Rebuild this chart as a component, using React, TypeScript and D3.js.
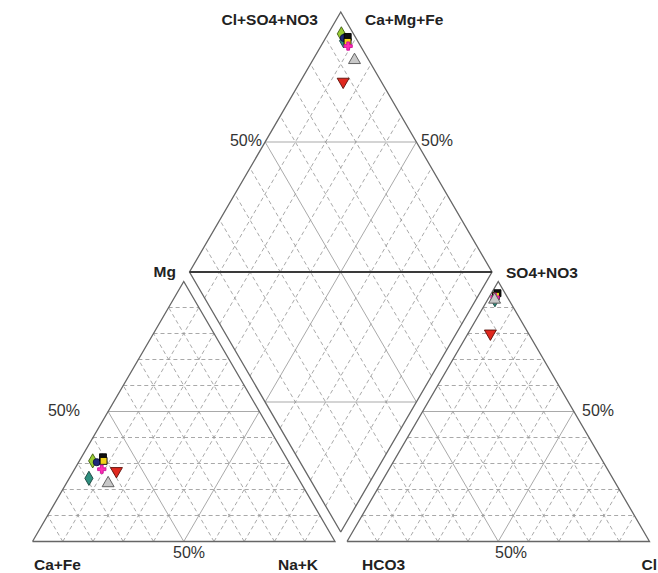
import React from "react";
import * as d3 from "d3";

// Sample compositions (meq %)
const sampleIds = ["W1", "W2", "W3", "W4", "W5", "W6", "W7", "W8"];
const caFe = [64.6, 69.2, 63.5, 60.5, 61.0, 63.2, 63.8, 58.7];
const mgVals = [31.0, 24.3, 30.5, 32.4, 31.0, 27.8, 22.4, 27.1];
const naK = [4.4, 6.5, 6.0, 7.1, 8.0, 9.0, 13.8, 14.2];
const hco3 = [4.0, 4.6, 4.0, 2.5, 3.5, 4.1, 4.7, 12.6];
const so4no3 = [94.0, 93.0, 94.0, 95.5, 94.5, 93.9, 93.0, 80.0];
const clVals = [2.0, 2.4, 2.0, 2.0, 2.0, 2.0, 2.3, 7.4];

// Marker style for each sample
const markerShapes = ["diamond", "diamond", "circle", "square", "square", "cross", "triangle", "triangleDown"];
const markerFills = ["#9acd32", "#2f8f7f", "#1f2a7a", "#111111", "#f2d21b", "#ff2fb4", "#c8c8c8", "#e0281e"];
const markerStrokes = ["#3d5a12", "#17443c", "#0b1040", "#000000", "#000000", "#d0109a", "#555555", "#5a0e08"];

const tickFractions = d3.range(1, 10).map((k) => k / 10);

type Pt = [number, number];

const W = 658;
const H = 573;
const side = 302.5;
const th = 260;
const baseY = 541.5;
const leftX0 = 32.5;
const rightX0 = 347;
const dBottom: Pt = [340.75, 532];

const lerp = (a: Pt, b: Pt, t: number): Pt => [a[0] + (b[0] - a[0]) * t, a[1] + (b[1] - a[1]) * t];

const cat = { A: [leftX0, baseY] as Pt, B: [leftX0 + side, baseY] as Pt, C: [leftX0 + side / 2, baseY - th] as Pt };
const ani = { A: [rightX0, baseY] as Pt, B: [rightX0 + side, baseY] as Pt, C: [rightX0 + side / 2, baseY - th] as Pt };
const dia = {
  B: dBottom,
  L: [dBottom[0] - side / 2, dBottom[1] - th] as Pt,
  R: [dBottom[0] + side / 2, dBottom[1] - th] as Pt,
  T: [dBottom[0], dBottom[1] - 2 * th] as Pt,
};

// ternary position: a at A, b at B, c at C (fractions)
const tern = (tri: { A: Pt; B: Pt; C: Pt }, a: number, b: number, c: number): Pt => {
  const s = a + b + c;
  return [
    (tri.A[0] * a + tri.B[0] * b + tri.C[0] * c) / s,
    (tri.A[1] * a + tri.B[1] * b + tri.C[1] * c) / s,
  ];
};

const line = d3.line<Pt>();

function triGrid(tri: { A: Pt; B: Pt; C: Pt }) {
  const segs: { p: Pt[]; mid: boolean }[] = [];
  tickFractions.forEach((t) => {
    const mid = Math.abs(t - 0.5) < 1e-9;
    segs.push({ p: [lerp(tri.A, tri.C, t), lerp(tri.B, tri.C, t)], mid });
    segs.push({ p: [lerp(tri.A, tri.B, t), lerp(tri.C, tri.B, t)], mid });
    segs.push({ p: [lerp(tri.B, tri.A, t), lerp(tri.C, tri.A, t)], mid });
  });
  return segs;
}

function diaGrid() {
  const segs: { p: Pt[]; mid: boolean }[] = [];
  tickFractions.forEach((t) => {
    const mid = Math.abs(t - 0.5) < 1e-9;
    segs.push({ p: [lerp(dia.B, dia.R, t), lerp(dia.L, dia.T, t)], mid });
    segs.push({ p: [lerp(dia.B, dia.L, t), lerp(dia.R, dia.T, t)], mid });
  });
  return segs;
}

const symbolFor = (shape: string) => {
  switch (shape) {
    case "diamond":
      return d3.symbol(d3.symbolDiamond, 58)();
    case "circle":
      return d3.symbol(d3.symbolCircle, 40)();
    case "square":
      return d3.symbol(d3.symbolSquare, 48)();
    case "cross":
      return d3.symbol(d3.symbolCross, 38)();
    case "triangle":
    case "triangleDown":
      return d3.symbol(d3.symbolTriangle, 62)();
    default:
      return d3.symbol(d3.symbolCircle, 30)();
  }
};

const Marker = ({ p, i }: { p: Pt; i: number }) => (
  <path
    d={symbolFor(markerShapes[i]) || ""}
    transform={`translate(${p[0]},${p[1]})${markerShapes[i] === "triangleDown" ? " rotate(180)" : ""}`}
    fill={markerFills[i]}
    stroke={markerStrokes[i]}
    strokeWidth={0.9}
  />
);

export default function App() {
  const gridColor = "#999999";
  const edgeColor = "#666666";

  const catPts = sampleIds.map((_, i) => tern(cat, caFe[i], naK[i], mgVals[i]));
  const aniPts = sampleIds.map((_, i) => tern(ani, hco3[i], clVals[i], so4no3[i]));
  const diaPts = sampleIds.map((_, i) => {
    const n = naK[i] / (caFe[i] + mgVals[i] + naK[i]);
    const a = (so4no3[i] + clVals[i]) / (hco3[i] + so4no3[i] + clVals[i]);
    return [
      dia.B[0] + (1 - n) * (dia.L[0] - dia.B[0]) + a * (dia.R[0] - dia.B[0]),
      dia.B[1] + (1 - n) * (dia.L[1] - dia.B[1]) + a * (dia.R[1] - dia.B[1]),
    ] as Pt;
  });

  const gridSegs = [...triGrid(cat), ...triGrid(ani), ...diaGrid()];
  const diaUpperMid = [lerp(dia.L, dia.T, 0.5), lerp(dia.R, dia.T, 0.5)];
  const diaLowerMid = [lerp(dia.L, dia.B, 0.5), lerp(dia.R, dia.B, 0.5)];

  const labelStyle = { fontFamily: "'Liberation Sans', Arial, sans-serif", fontSize: 15.5, fontWeight: 700, fill: "#222" };
  const pctStyle = { fontFamily: "'Liberation Sans', Arial, sans-serif", fontSize: 16, fill: "#333" };

  return (
    <svg width={W} height={H} style={{ position: "absolute", left: 0, top: 0, background: "#fff" }}>
      <rect width={W} height={H} fill="#fff" />
      <g fill="none">
        {gridSegs.map((s, i) => (
          <path
            key={i}
            d={line(s.p) || ""}
            stroke={gridColor}
            strokeWidth={0.85}
            strokeDasharray={s.mid ? undefined : "4,3"}
          />
        ))}
        <path d={line(diaUpperMid as Pt[]) || ""} stroke={gridColor} strokeWidth={0.85} />
        <path d={line(diaLowerMid as Pt[]) || ""} stroke={gridColor} strokeWidth={0.85} />
        <path d={line([cat.A, cat.B, cat.C, cat.A]) || ""} stroke={edgeColor} strokeWidth={1.3} />
        <path d={line([ani.A, ani.B, ani.C, ani.A]) || ""} stroke={edgeColor} strokeWidth={1.3} />
        <path d={line([dia.B, dia.L, dia.T, dia.R, dia.B]) || ""} stroke={edgeColor} strokeWidth={1.3} />
        <path d={line([dia.L, dia.R]) || ""} stroke="#3a3a3a" strokeWidth={2.2} />
      </g>

      <g>
        {catPts.map((p, i) => <Marker key={"c" + i} p={p} i={i} />)}
        {aniPts.map((p, i) => <Marker key={"a" + i} p={p} i={i} />)}
        {diaPts.map((p, i) => <Marker key={"d" + i} p={p} i={i} />)}
      </g>

      <g style={labelStyle}>
        <text x={318} y={25} textAnchor="end">Cl+SO4+NO3</text>
        <text x={365} y={25}>Ca+Mg+Fe</text>
        <text x={176} y={277} textAnchor="end">Mg</text>
        <text x={506} y={278}>SO4+NO3</text>
        <text x={34} y={570}>Ca+Fe</text>
        <text x={318} y={570} textAnchor="end">Na+K</text>
        <text x={362} y={570}>HCO3</text>
        <text x={657} y={570} textAnchor="end">Cl</text>
      </g>
      <g style={pctStyle}>
        <text x={262} y={146} textAnchor="end">50%</text>
        <text x={421} y={146}>50%</text>
        <text x={80} y={416} textAnchor="end">50%</text>
        <text x={582} y={416}>50%</text>
        <text x={189} y={558} textAnchor="middle">50%</text>
        <text x={511} y={558} textAnchor="middle">50%</text>
      </g>
    </svg>
  );
}
